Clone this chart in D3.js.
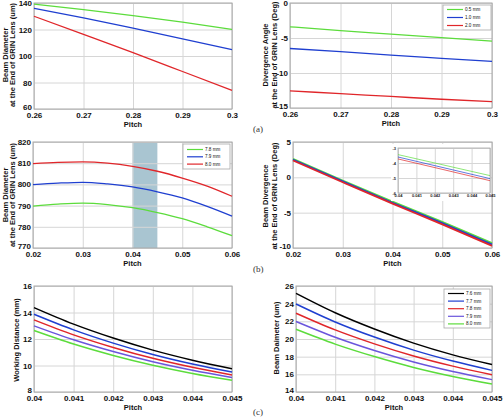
<!DOCTYPE html>
<html><head><meta charset="utf-8">
<script src="https://cdn.jsdelivr.net/npm/d3@7"></script>
<style>
body{margin:0;background:#fff;}
svg{display:block;}
.tk text{font-family:"Liberation Sans",Arial,sans-serif;font-weight:bold;font-size:8px;fill:#111;}
.lbl{font-family:"Liberation Sans",Arial,sans-serif;font-weight:bold;font-size:7.5px;fill:#111;}
.lg{font-family:"Liberation Sans",Arial,sans-serif;font-size:4.6px;fill:#111;}
.cap{font-family:"Liberation Serif","Times New Roman",serif;font-size:9px;fill:#333;}
</style></head>
<body>
<svg id="c" width="503" height="417"></svg>
<script>
// ---------- DATA ----------
const pitchA = [0.26, 0.27, 0.28, 0.29, 0.30];
const pitchATicks = [0.26, 0.27, 0.28, 0.29, 0.30];
const pitchATickLabels = ["0.26", "0.27", "0.28", "0.29", "0.3"];
const lensLabelsA = ["0.5 mm", "1.0 mm", "2.0 mm"];
const diamA_05 = [139.2, 135.0, 130.5, 125.5, 120.0];
const diamA_10 = [136.0, 128.8, 121.0, 113.0, 104.8];
const diamA_20 = [130.0, 116.3, 102.5, 88.3, 74.0];
const divA_05 = [-3.4, -3.95, -4.45, -4.95, -5.45];
const divA_10 = [-6.5, -6.95, -7.45, -7.9, -8.35];
const divA_20 = [-12.55, -12.95, -13.35, -13.75, -14.1];

const pitchB = [0.02, 0.025, 0.03, 0.035, 0.04, 0.045, 0.05, 0.055, 0.06];
const pitchBTicks = [0.02, 0.03, 0.04, 0.05, 0.06];
const pitchBTickLabels = ["0.02", "0.03", "0.04", "0.05", "0.06"];
const lensLabelsB = ["7.8 mm", "7.9 mm", "8.0 mm"];
const diamB_78 = [789.8, 790.7, 791.2, 790.5, 789.0, 786.7, 783.8, 780.0, 775.8];
const diamB_79 = [799.9, 800.6, 801.0, 800.2, 798.8, 796.5, 793.6, 789.6, 785.0];
const diamB_80 = [809.8, 810.4, 810.6, 810.0, 808.5, 806.2, 803.0, 799.2, 794.4];
const bandB = [0.04, 0.045];
const pitchBDiv = [0.02, 0.03, 0.04, 0.05, 0.06];
const divB_78 = [2.62, -0.45, -3.44, -6.3, -9.3];
const divB_79 = [2.5, -0.58, -3.6, -6.48, -9.5];
const divB_80 = [2.38, -0.7, -3.73, -6.65, -9.7];
const pitchInset = [0.04, 0.0425, 0.045];
const insetTicks = [0.04, 0.041, 0.042, 0.043, 0.044, 0.045];
const insetTickLabels = ["0.04", "0.041", "0.042", "0.043", "0.044", "0.045"];
const inset_78 = [-3.44, -4.14, -4.84];
const inset_79 = [-3.6, -4.32, -5.04];
const inset_80 = [-3.73, -4.45, -5.18];

const pitchC = [0.04, 0.041, 0.042, 0.043, 0.044, 0.045];
const pitchCTicks = [0.04, 0.041, 0.042, 0.043, 0.044, 0.045];
const pitchCTickLabels = ["0.04", "0.041", "0.042", "0.043", "0.044", "0.045"];
const lensLabelsC = ["7.6 mm", "7.7 mm", "7.8 mm", "7.9 mm", "8.0 mm"];
const wd_76 = [14.37, 13.12, 12.07, 11.16, 10.40, 9.76];
const wd_77 = [13.87, 12.69, 11.69, 10.83, 10.11, 9.50];
const wd_78 = [13.44, 12.31, 11.36, 10.54, 9.86, 9.28];
const wd_79 = [12.99, 11.94, 11.05, 10.28, 9.64, 9.10];
const wd_80 = [12.64, 11.62, 10.76, 10.02, 9.40, 8.88];
const bd_76 = [25.17, 22.97, 21.13, 19.53, 18.20, 17.10];
const bd_77 = [23.97, 21.93, 20.22, 18.74, 17.50, 16.45];
const bd_78 = [22.92, 21.03, 19.45, 18.08, 16.93, 15.96];
const bd_79 = [21.98, 20.20, 18.70, 17.40, 16.32, 15.40];
const bd_80 = [21.10, 19.42, 18.01, 16.78, 15.76, 14.90];

// ---------- STYLE ----------
const GREEN = "#5cdc3c", BLUE = "#1f3fd0", RED = "#e0262a", BLACK = "#000", PURPLE = "#6a55dc";
const fmt = d => String(d);

const svg = d3.select("#c");

function panel(o) {
  const g = svg.append("g");
  const x = d3.scaleLinear().domain(o.xd).range([o.x0, o.x1]);
  const y = d3.scaleLinear().domain(o.yd).range([o.y1, o.y0]);
  if (o.band) {
    g.append("rect").attr("x", x(o.band[0])).attr("y", o.y0)
      .attr("width", x(o.band[1]) - x(o.band[0])).attr("height", o.y1 - o.y0)
      .attr("fill", "#a9c5d1");
  }
  const gx = g.append("g").attr("class", "tk").attr("transform", `translate(0,${o.y1})`)
    .call(d3.axisBottom(x).tickValues(o.xt).tickFormat((d, i) => o.xl[i]).tickSize(-(o.y1 - o.y0)).tickPadding(3));
  const gy = g.append("g").attr("class", "tk").attr("transform", `translate(${o.x0},0)`)
    .call(d3.axisLeft(y).tickValues(o.yt).tickFormat(fmt).tickSize(-(o.x1 - o.x0)).tickPadding(2));
  [gx, gy].forEach(a => {
    a.select(".domain").remove();
    a.selectAll("line").attr("stroke", "#d6d6d6").attr("stroke-width", 1);
  });
  gx.selectAll("text").attr("dy", "0.75em");
  // lowest y label sits just above the first x label, as in the original
  gy.selectAll("text").filter(d => d === o.yd[0]).attr("dy", "0.1em");
  g.append("rect").attr("x", o.x0).attr("y", o.y0).attr("width", o.x1 - o.x0).attr("height", o.y1 - o.y0)
    .attr("fill", "none").attr("stroke", "#a8a8a8").attr("stroke-width", 1);
  const line = d3.line().x(d => x(d[0])).y(d => y(d[1])).curve(d3.curveMonotoneX);
  o.series.forEach(s => {
    g.append("path").datum(o.px.map((p, i) => [p, s.v[i]])).attr("d", line)
      .attr("fill", "none").attr("stroke", s.c).attr("stroke-width", o.sw || 1.3);
  });
  g.append("text").attr("class", "lbl").attr("x", (o.x0 + o.x1) / 2).attr("y", o.y1 + 18)
    .attr("text-anchor", "middle").text("Pitch");
  o.ylab.forEach((t, i) => {
    g.append("text").attr("class", "lbl").attr("text-anchor", "middle").attr("dominant-baseline", "central")
      .attr("transform", `translate(${o.ylx[i]},${o.yly}) rotate(-90)`).text(t);
  });
  if (o.legend) {
    const L = o.legend;
    g.append("rect").attr("x", L.x).attr("y", L.y).attr("width", L.w).attr("height", L.h)
      .attr("fill", "#fff").attr("stroke", "#a8a8a8").attr("stroke-width", 0.8);
    L.items.forEach((it, i) => {
      const yy = L.y + L.first + i * L.step;
      g.append("line").attr("x1", L.x + 4).attr("x2", L.x + 20).attr("y1", yy).attr("y2", yy)
        .attr("stroke", it.c).attr("stroke-width", 1.2);
      g.append("text").attr("class", "lg").attr("x", L.x + 22).attr("y", yy)
        .attr("dominant-baseline", "central").text(it.t);
    });
  }
  return {g, x, y};
}

// (a) left
panel({x0: 34, x1: 232, y0: 3, y1: 109, xd: [0.26, 0.3], yd: [60, 140],
  xt: pitchATicks, xl: pitchATickLabels, yt: [60, 80, 100, 120, 140], px: pitchA,
  series: [{v: diamA_05, c: GREEN}, {v: diamA_10, c: BLUE}, {v: diamA_20, c: RED}],
  ylab: ["Beam Diameter", "at the End of GRIN Lens (um)"], ylx: [5, 12.5], yly: 55});
// (a) right
panel({x0: 290, x1: 492, y0: 3, y1: 108, xd: [0.26, 0.3], yd: [-15, 0],
  xt: pitchATicks, xl: pitchATickLabels, yt: [-15, -10, -5, 0], px: pitchA,
  series: [{v: divA_05, c: GREEN}, {v: divA_10, c: BLUE}, {v: divA_20, c: RED}],
  ylab: ["Divergence Angle", "at the End of GRIN Lens (Deg)"], ylx: [265.5, 274], yly: 55,
  legend: {x: 443, y: 5, w: 48, h: 25, first: 4.5, step: 8,
    items: lensLabelsA.map((t, i) => ({t, c: [GREEN, BLUE, RED][i]}))}});
svg.append("text").attr("class", "cap").attr("x", 253).attr("y", 132).text("(a)");

// (b) left
panel({x0: 33, x1: 232, y0: 142, y1: 248, xd: [0.02, 0.06], yd: [770, 820],
  xt: pitchBTicks, xl: pitchBTickLabels, yt: [770, 780, 790, 800, 810, 820], px: pitchB, band: bandB,
  series: [{v: diamB_78, c: GREEN}, {v: diamB_79, c: BLUE}, {v: diamB_80, c: RED}],
  ylab: ["Beam Diameter", "at the End of GRIN Lens (um)"], ylx: [5, 12.5], yly: 195,
  legend: {x: 183, y: 144, w: 47, h: 25, first: 5.5, step: 7.3,
    items: lensLabelsB.map((t, i) => ({t, c: [GREEN, BLUE, RED][i]}))}});
// (b) right
panel({x0: 293, x1: 492, y0: 142, y1: 248, xd: [0.02, 0.06], yd: [-10, 5],
  xt: pitchBTicks, xl: pitchBTickLabels, yt: [-10, -5, 0, 5], px: pitchBDiv, sw: 1.8,
  series: [{v: divB_78, c: GREEN}, {v: divB_79, c: BLUE}, {v: divB_80, c: RED}],
  ylab: ["Beam Divergence", "at the End of GRIN Lens (Deg)"], ylx: [265.5, 274], yly: 196});
// inset
(function () {
  const x0 = 398, x1 = 490, y0 = 148, y1 = 193;
  const g = svg.append("g");
  g.append("rect").attr("x", 391).attr("y", 144).attr("width", 100).attr("height", 57).attr("fill", "#fff");
  const x = d3.scaleLinear().domain([0.04, 0.045]).range([x0, x1]);
  const y = d3.scaleLinear().domain([-6, -3]).range([y1, y0]);
  const gx = g.append("g").attr("transform", `translate(0,${y1})`)
    .call(d3.axisBottom(x).tickValues(insetTicks).tickFormat((d, i) => insetTickLabels[i]).tickSize(-(y1 - y0)).tickPadding(2));
  const gy = g.append("g").attr("transform", `translate(${x0},0)`)
    .call(d3.axisLeft(y).tickValues([-6, -5, -4, -3]).tickFormat(fmt).tickSize(-(x1 - x0)).tickPadding(2));
  [gx, gy].forEach(a => {
    a.select(".domain").remove();
    a.selectAll("line").attr("stroke", "#d6d6d6");
    a.selectAll("text").attr("font-family", "Liberation Sans, Arial, sans-serif").attr("font-weight", "bold")
      .attr("font-size", "4px").attr("fill", "#222");
  });
  gx.selectAll("text").attr("dy", "0.6em");
  g.append("rect").attr("x", x0).attr("y", y0).attr("width", x1 - x0).attr("height", y1 - y0)
    .attr("fill", "none").attr("stroke", "#a8a8a8").attr("stroke-width", 0.8);
  const line = d3.line().x(d => x(d[0])).y(d => y(d[1]));
  [[inset_78, GREEN], [inset_79, BLUE], [inset_80, RED]].forEach(([v, c]) => {
    g.append("path").datum(pitchInset.map((p, i) => [p, v[i]])).attr("d", line)
      .attr("fill", "none").attr("stroke", c).attr("stroke-width", 0.7);
  });
})();
svg.append("text").attr("class", "cap").attr("x", 253).attr("y", 272).text("(b)");

// (c) left
panel({x0: 34, x1: 232, y0: 286, y1: 392, xd: [0.04, 0.045], yd: [8, 16],
  xt: pitchCTicks, xl: pitchCTickLabels, yt: [8, 10, 12, 14, 16], px: pitchC, sw: 1.5,
  series: [{v: wd_76, c: BLACK}, {v: wd_77, c: BLUE}, {v: wd_78, c: RED}, {v: wd_79, c: PURPLE}, {v: wd_80, c: GREEN}],
  ylab: ["Working Distance (mm)"], ylx: [16], yly: 340});
// (c) right
panel({x0: 296, x1: 492, y0: 286, y1: 392, xd: [0.04, 0.045], yd: [14, 26],
  xt: pitchCTicks, xl: pitchCTickLabels, yt: [14, 16, 18, 20, 22, 24, 26], px: pitchC, sw: 1.5,
  series: [{v: bd_76, c: BLACK}, {v: bd_77, c: BLUE}, {v: bd_78, c: RED}, {v: bd_79, c: PURPLE}, {v: bd_80, c: GREEN}],
  ylab: ["Beam Daimeter (um)"], ylx: [276], yly: 338,
  legend: {x: 444, y: 289, w: 46, h: 39, first: 4.5, step: 7.6,
    items: lensLabelsC.map((t, i) => ({t, c: [BLACK, BLUE, RED, PURPLE, GREEN][i]}))}});
svg.append("text").attr("class", "cap").attr("x", 253).attr("y", 415).text("(c)");
</script>
</body></html>
